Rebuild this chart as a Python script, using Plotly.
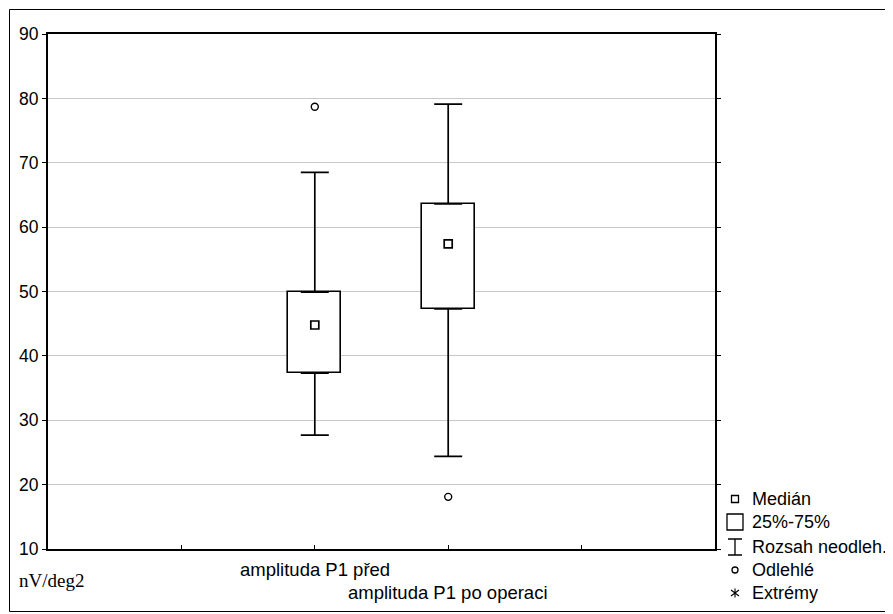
import plotly.graph_objects as go

# ---- data ----
categories = ["amplituda P1 před", "amplituda P1 po operaci"]
cat_pos = [2, 3]
q1 = [37.3, 47.3]
medians = [44.8, 57.4]
q3 = [49.9, 63.6]
whisk_low = [27.7, 24.4]
whisk_high = [68.5, 79.1]
outlier_pos = [2, 3]
outlier_vals = [78.7, 18.1]

y_ticks = [10, 20, 30, 40, 50, 60, 70, 80, 90]
legend_labels = ["Medián", "25%-75%", "Rozsah neodleh.", "Odlehlé", "Extrémy"]

# page body adds an 8px offset; layout below is expressed in reference pixels
OFF = 8
W, H = 893 - OFF, 614 - OFF
plot_left, plot_right, plot_top, plot_bottom = 48, 715, 34, 549
ML = plot_left - OFF
MR = W - (plot_right - OFF)
MT = plot_top - OFF
MB = H - (plot_bottom - OFF)
PW = plot_right - plot_left
PH = plot_bottom - plot_top


def X(rx):  # reference x pixel -> paper x
    return (rx - plot_left) / PW


def Y(ry):  # reference y pixel -> paper y
    return (plot_bottom - ry) / PH


FONT = "Liberation Sans, Arial, sans-serif"

fig = go.Figure()

# boxes (25%-75%)
fig.add_trace(go.Bar(
    x=cat_pos, y=[b - a for a, b in zip(q1, q3)], base=q1, width=0.4,
    marker=dict(color="white", line=dict(color="black", width=1.6)),
    showlegend=False, hoverinfo="skip"))

# upper whiskers
fig.add_trace(go.Scatter(
    x=cat_pos, y=q3, mode="markers", marker=dict(size=1, color="rgba(0,0,0,0)"),
    error_y=dict(type="data", symmetric=False,
                 array=[h - b for h, b in zip(whisk_high, q3)],
                 arrayminus=[0, 0], width=14, thickness=1.7, color="black"),
    showlegend=False, hoverinfo="skip"))
# lower whiskers
fig.add_trace(go.Scatter(
    x=cat_pos, y=q1, mode="markers", marker=dict(size=1, color="rgba(0,0,0,0)"),
    error_y=dict(type="data", symmetric=False, array=[0, 0],
                 arrayminus=[a - l for a, l in zip(q1, whisk_low)],
                 width=14, thickness=1.7, color="black"),
    showlegend=False, hoverinfo="skip"))

# medians
fig.add_trace(go.Scatter(
    x=cat_pos, y=medians, mode="markers",
    marker=dict(symbol="square-open", size=8, color="black", line=dict(width=1.7)),
    showlegend=False))

# outliers
fig.add_trace(go.Scatter(
    x=outlier_pos, y=outlier_vals, mode="markers",
    marker=dict(symbol="circle-open", size=7, color="black", line=dict(width=1.4)),
    showlegend=False))

# ---- custom legend (symbols as paper shapes, reference pixel coords) ----
lx = 735
rows = [499, 522, 547, 570, 593]
line_k = dict(color="black", width=1.3)
shapes = []
shapes.append(dict(type="rect", xref="paper", yref="paper",
                   x0=X(lx - 3.5), x1=X(lx + 3.5), y0=Y(rows[0] + 3.5), y1=Y(rows[0] - 3.5), line=line_k))
shapes.append(dict(type="rect", xref="paper", yref="paper",
                   x0=X(lx - 8), x1=X(lx + 8), y0=Y(rows[1] + 8), y1=Y(rows[1] - 8), line=line_k))
r = rows[2]
ibeam = (f"M {X(lx)} {Y(r - 8)} L {X(lx)} {Y(r + 8)} "
         f"M {X(lx - 7)} {Y(r - 8)} L {X(lx + 7)} {Y(r - 8)} "
         f"M {X(lx - 7)} {Y(r + 8)} L {X(lx + 7)} {Y(r + 8)}")
shapes.append(dict(type="path", xref="paper", yref="paper", path=ibeam, line=line_k))
shapes.append(dict(type="circle", xref="paper", yref="paper",
                   x0=X(lx - 3), x1=X(lx + 3), y0=Y(rows[3] + 3), y1=Y(rows[3] - 3), line=line_k))
r = rows[4]
aster = (f"M {X(lx)} {Y(r - 4.5)} L {X(lx)} {Y(r + 4.5)} "
         f"M {X(lx - 4)} {Y(r - 3)} L {X(lx + 4)} {Y(r + 3)} "
         f"M {X(lx - 4)} {Y(r + 3)} L {X(lx + 4)} {Y(r - 3)}")
shapes.append(dict(type="path", xref="paper", yref="paper", path=aster, line=dict(color="black", width=1.1)))

# outer frame
shapes.append(dict(type="rect", xref="paper", yref="paper",
                   x0=X(9.5), x1=X(891), y0=Y(611.5), y1=Y(9.5),
                   line=dict(color="black", width=1), fillcolor="rgba(0,0,0,0)", layer="below"))

annotations = []
for lab, ry in zip(legend_labels, rows):
    annotations.append(dict(x=X(750), y=Y(ry), xref="paper", yref="paper", text=lab, showarrow=False,
                            xanchor="left", yanchor="middle", font=dict(family=FONT, size=18, color="black")))

# category labels below axis
cat_label_y = [569, 592]
for c, p, ly in zip(categories, cat_pos, cat_label_y):
    annotations.append(dict(x=p, y=Y(ly), xref="x", yref="paper", text=c, showarrow=False,
                            xanchor="center", yanchor="middle",
                            font=dict(family=FONT, size=18.5, color="black")))

# unit label
annotations.append(dict(x=X(17), y=Y(580), xref="paper", yref="paper", text="nV/deg2",
                        showarrow=False, xanchor="left", yanchor="middle",
                        font=dict(family="Liberation Serif, Times New Roman, serif", size=19, color="black")))

fig.update_layout(
    width=W, height=H,
    margin=dict(l=ML, r=MR, t=MT, b=MB),
    paper_bgcolor="white", plot_bgcolor="white",
    font=dict(family=FONT, color="black"),
    showlegend=False,
    bargap=0,
    xaxis=dict(range=[0, 5], tickvals=[1, 2, 3, 4], ticktext=["", "", "", ""],
               ticks="inside", ticklen=4, tickcolor="black", showgrid=False, zeroline=False,
               showline=True, linecolor="black", linewidth=2, mirror=True, automargin=False),
    yaxis=dict(range=[10, 90], tickvals=y_ticks, ticks="outside", ticklen=4,
               tickcolor="black", showgrid=True, gridcolor="#c8c8c8", gridwidth=1, zeroline=False,
               showline=True, linecolor="black", linewidth=2, mirror="ticks", automargin=False,
               tickfont=dict(family=FONT, size=17.5, color="black")),
    annotations=annotations,
    shapes=shapes,
)

fig.write_html("out.html")
